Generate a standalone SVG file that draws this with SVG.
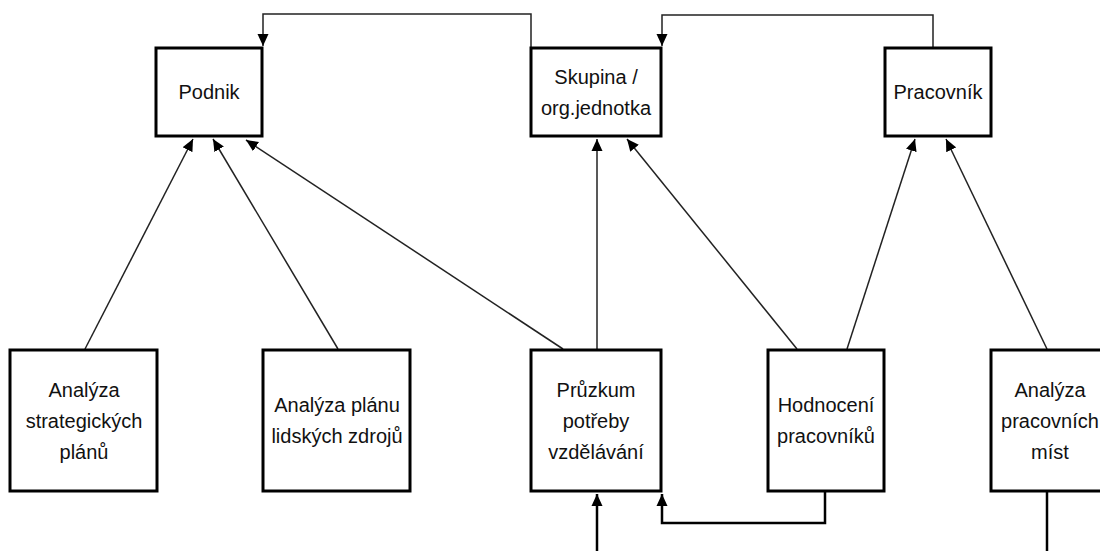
<svg xmlns="http://www.w3.org/2000/svg" width="1100" height="551" viewBox="0 0 1100 551">
<style>
.box{fill:#fff;stroke:#000;stroke-width:3}
.t{font-family:"Liberation Sans",Arial,sans-serif;font-size:20px;fill:#111;text-anchor:middle}
.c{fill:none;stroke:#222;stroke-width:1.5}
.ct{fill:none;stroke:#000;stroke-width:2.5}
</style>
<defs>
<marker id="ah" markerUnits="userSpaceOnUse" markerWidth="13" markerHeight="12" refX="12" refY="5.5" orient="auto" viewBox="0 0 13 11">
<path d="M0,0 L12,5.5 L0,11 z" fill="#000"/>
</marker>
</defs>
<g id="connectors">
<line class="c" x1="85" y1="349" x2="193" y2="139" marker-end="url(#ah)"/>
<line class="c" x1="338" y1="349" x2="213" y2="139" marker-end="url(#ah)"/>
<line class="c" x1="563" y1="349" x2="246" y2="140" marker-end="url(#ah)"/>
<line class="c" x1="597" y1="349" x2="597" y2="139" marker-end="url(#ah)"/>
<line class="c" x1="797" y1="349" x2="627" y2="139" marker-end="url(#ah)"/>
<line class="c" x1="847" y1="349" x2="915" y2="139" marker-end="url(#ah)"/>
<line class="c" x1="1047" y1="349" x2="946" y2="139" marker-end="url(#ah)"/>
<path class="c" d="M531,47 V14 H263 V46" marker-end="url(#ah)"/>
<path class="c" d="M933,47 V15 H662 V46" marker-end="url(#ah)"/>
<path class="ct" d="M597,551 V494" marker-end="url(#ah)"/>
<path class="ct" d="M825,492 V523 H662 V494" marker-end="url(#ah)"/>
<path class="ct" d="M1047,492 V551"/>
</g>
<g id="podnik">
<rect class="box" x="156" y="48" width="106" height="88"/>
<text class="t" x="209" y="99">Podnik</text>
</g>
<g id="skupina">
<rect class="box" x="531" y="48" width="130" height="88"/>
<text class="t" x="596" y="84">Skupina /</text>
<text class="t" x="596" y="115">org.jednotka</text>
</g>
<g id="pracovnik">
<rect class="box" x="885" y="48" width="106" height="88"/>
<text class="t" x="938" y="99">Pracovník</text>
</g>
<g id="analyza-strategickych">
<rect class="box" x="10" y="350" width="147" height="141"/>
<text class="t" x="84" y="397">Analýza</text>
<text class="t" x="84" y="428">strategických</text>
<text class="t" x="84" y="459">plánů</text>
</g>
<g id="analyza-planu">
<rect class="box" x="263" y="350" width="147" height="141"/>
<text class="t" x="337" y="412">Analýza plánu</text>
<text class="t" x="337" y="443">lidských zdrojů</text>
</g>
<g id="pruzkum">
<rect class="box" x="531" y="350" width="130" height="141"/>
<text class="t" x="596" y="397">Průzkum</text>
<text class="t" x="596" y="428">potřeby</text>
<text class="t" x="596" y="459">vzdělávání</text>
</g>
<g id="hodnoceni">
<rect class="box" x="768" y="350" width="116" height="141"/>
<text class="t" x="826" y="412">Hodnocení</text>
<text class="t" x="826" y="443">pracovníků</text>
</g>
<g id="analyza-mist">
<rect class="box" x="991" y="350" width="117" height="141"/>
<text class="t" x="1050" y="397">Analýza</text>
<text class="t" x="1050" y="428">pracovních</text>
<text class="t" x="1050" y="459">míst</text>
</g>
</svg>
